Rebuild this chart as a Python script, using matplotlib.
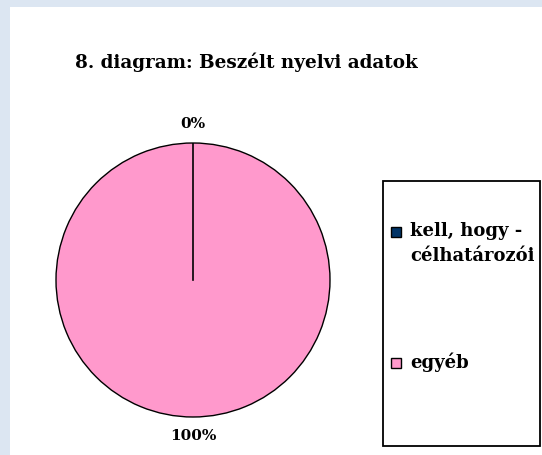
import matplotlib
matplotlib.use("Agg")
import matplotlib.pyplot as plt
from matplotlib.patches import Rectangle

W, H = 542, 455

labels = ["kell, hogy -\ncélhatározói", "egyéb"]
values = [0, 100]
colors = ["#003366", "#ff99cc"]
title = "8. diagram: Beszélt nyelvi adatok"

serif = "DejaVu Serif"

fig = plt.figure(figsize=(W / 100, H / 100), dpi=100, facecolor="#dce6f2")

# white chart area (blue strip left and top)
fig.patches.append(Rectangle((10 / W, 0), 1, (H - 7) / H, transform=fig.transFigure,
                             facecolor="white", edgecolor="none", zorder=-5))

fig.text(75 / W, 1 - 62 / H, title, fontsize=13.2, fontweight="bold",
         family=serif, va="center", ha="left")

# pie
r = 137
cx, cy = 193, 280
ax = fig.add_axes([(cx - r) / W, (H - cy - r) / H, 2 * r / W, 2 * r / H])
ax.set_zorder(1)
wedges, texts, autotexts = ax.pie(
    values, colors=colors, startangle=90, counterclock=False,
    autopct="%1.0f%%", pctdistance=1.14,
    wedgeprops=dict(edgecolor="black", linewidth=1),
    textprops=dict(fontsize=11, fontweight="bold", family=serif))
ax.set_xlim(-1, 1)
ax.set_ylim(-1, 1)
ax.set_aspect("equal")
for t in autotexts:
    t.set_clip_on(False)
# zero wedge drawn as a line from centre to top
ax.plot([0, 0], [0, 1], color="black", lw=1.2)

# legend box
fig.patches.append(Rectangle((383 / W, 1 - 446 / H), (540 - 383) / W, (446 - 181) / H,
                             transform=fig.transFigure, facecolor="white",
                             edgecolor="black", linewidth=1.3, zorder=2))
legend_y = [232, 363]
for lab, col, y in zip(labels, colors, legend_y):
    fig.patches.append(Rectangle((391 / W, 1 - (y + 5) / H), 10 / W, 10 / H,
                                 transform=fig.transFigure, facecolor=col,
                                 edgecolor="black", linewidth=1, zorder=3))
    fig.text(410 / W, 1 - (y - 10) / H, lab, fontsize=13, fontweight="bold",
             family=serif, va="top", ha="left", linespacing=1.5, zorder=4)

fig.savefig("out.png", dpi=100, facecolor=fig.get_facecolor())
